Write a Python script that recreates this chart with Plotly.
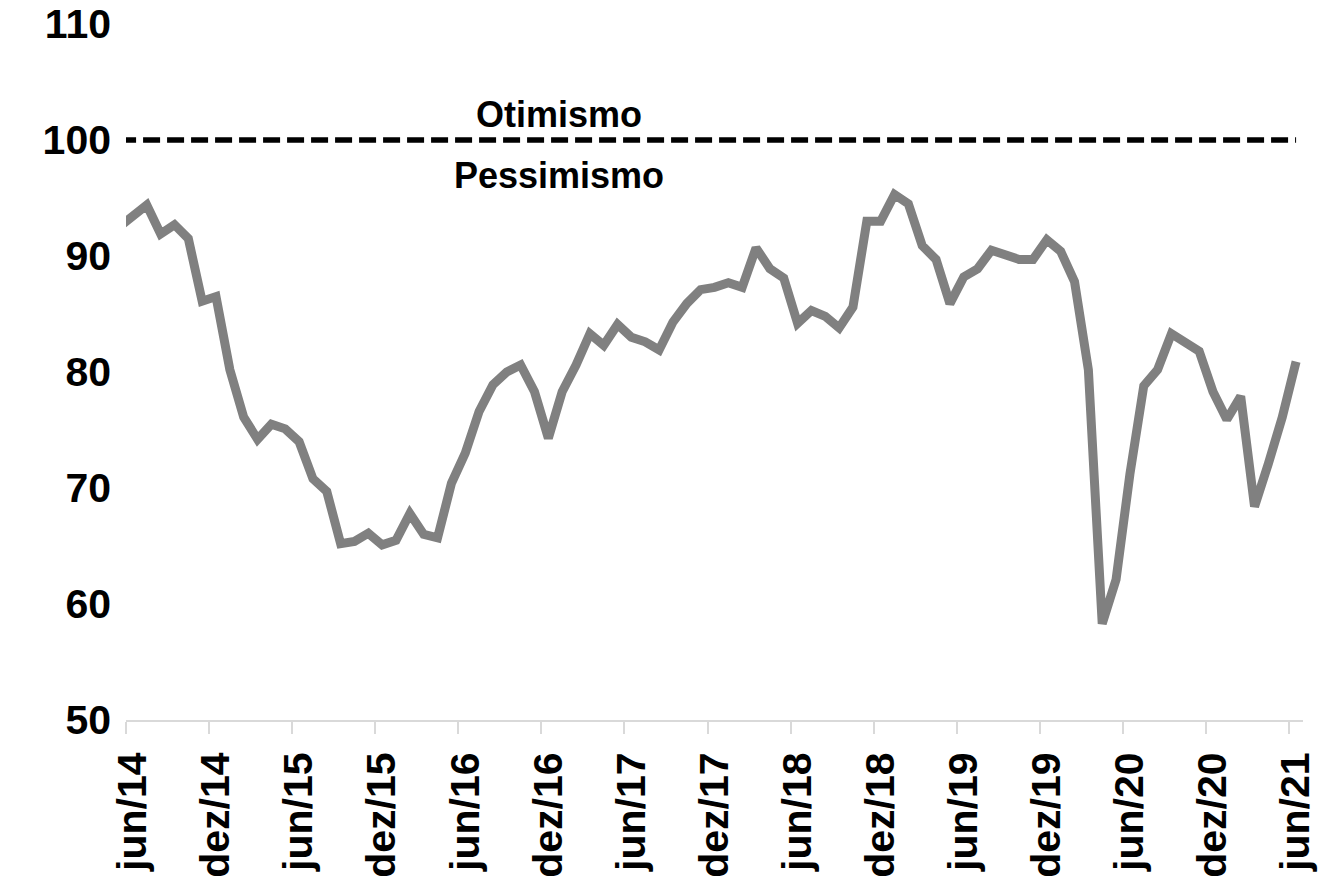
import plotly.graph_objects as go

# meses (mai/14 fica fora da área visível, só dá o começo da linha)
meses = ["mai/14",
         "jun/14", "jul/14", "ago/14", "set/14", "out/14", "nov/14", "dez/14",
         "jan/15", "fev/15", "mar/15", "abr/15", "mai/15", "jun/15", "jul/15", "ago/15", "set/15", "out/15", "nov/15", "dez/15",
         "jan/16", "fev/16", "mar/16", "abr/16", "mai/16", "jun/16", "jul/16", "ago/16", "set/16", "out/16", "nov/16", "dez/16",
         "jan/17", "fev/17", "mar/17", "abr/17", "mai/17", "jun/17", "jul/17", "ago/17", "set/17", "out/17", "nov/17", "dez/17",
         "jan/18", "fev/18", "mar/18", "abr/18", "mai/18", "jun/18", "jul/18", "ago/18", "set/18", "out/18", "nov/18", "dez/18",
         "jan/19", "fev/19", "mar/19", "abr/19", "mai/19", "jun/19", "jul/19", "ago/19", "set/19", "out/19", "nov/19", "dez/19",
         "jan/20", "fev/20", "mar/20", "abr/20", "mai/20", "jun/20", "jul/20", "ago/20", "set/20", "out/20", "nov/20", "dez/20",
         "jan/21", "fev/21", "mar/21", "abr/21", "mai/21", "jun/21"]

indice = [92.5,
          93.4, 94.4, 91.9, 92.7, 91.5, 86.1, 86.5,
          80.2, 76.1, 74.2, 75.5, 75.1, 74.0, 70.8, 69.7, 65.2, 65.4, 66.1, 65.1,
          65.5, 67.8, 66.0, 65.7, 70.4, 73.0, 76.6, 78.9, 80.0, 80.6, 78.3, 74.3,
          78.3, 80.6, 83.3, 82.3, 84.1, 83.0, 82.6, 81.9, 84.3, 85.9, 87.1, 87.3,
          87.7, 87.3, 90.7, 88.9, 88.1, 84.2, 85.3, 84.8, 83.8, 85.6, 93.0, 93.0,
          95.3, 94.5, 90.9, 89.7, 85.9, 88.2, 88.9, 90.5, 90.0, 89.7, 89.7, 91.4,
          90.4, 87.8, 80.2, 58.3, 62.1, 71.2, 78.8, 80.2, 83.3, 82.5, 81.8, 78.3,
          75.9, 77.9, 68.4, 72.1, 76.1, 80.9]

neutro = 100  # linha que separa otimismo de pessimismo

y_ticks = [50, 60, 70, 80, 90, 100, 110]

fonte = dict(family="Liberation Sans, Arial", size=41, color="black", weight="bold")
fonte_txt = dict(family="Liberation Sans, Arial", size=36, color="black", weight="bold")

x = list(range(len(meses)))

# rotulos de 6 em 6 meses a partir de jun/14, tick na borda esquerda da categoria
rot_idx = [i for i in x[1:] if (i - 1) % 6 == 0]
rot_txt = [meses[i] for i in rot_idx]
tick_bordas = [i - 0.5 for i in rot_idx]

fig = go.Figure()
fig.add_trace(go.Scatter(x=x, y=[neutro] * len(x), mode="lines",
                         line=dict(color="black", width=5.5, dash="17px,7px"),
                         hoverinfo="skip", showlegend=False))
fig.add_trace(go.Scatter(x=x, y=indice, mode="lines",
                         line=dict(color="#808080", width=9),
                         showlegend=False))

fig.add_annotation(x=0.368, xref="paper", y=neutro, yref="y", yshift=26,
                   text="Otimismo", showarrow=False, font=fonte_txt)
fig.add_annotation(x=0.368, xref="paper", y=neutro, yref="y", yshift=-35,
                   text="Pessimismo", showarrow=False, font=fonte_txt)

fig.update_xaxes(range=[0.5, len(meses) - 0.5], tickmode="array",
                 tickvals=rot_idx, ticktext=rot_txt, tickangle=-90,
                 ticks="outside", ticklen=12, tickcolor="rgba(0,0,0,0)",
                 ticklabelstandoff=2, automargin=False, ticklabeloverflow="allow",
                 minor=dict(tickmode="array", tickvals=tick_bordas, ticks="outside",
                            ticklen=12, tickwidth=2, tickcolor="#d9d9d9", showgrid=False),
                 showline=True, linecolor="#d9d9d9", linewidth=2,
                 showgrid=False, zeroline=False, tickfont=fonte)
fig.update_yaxes(range=[50, 110], tickmode="array", tickvals=y_ticks,
                 showline=False, showgrid=False, zeroline=False, automargin=False,
                 ticklabeloverflow="allow",
                 ticks="", ticklabelstandoff=14, tickfont=fonte)

# a pagina tem 8px de margem no body, por isso o tamanho menor
fig.update_layout(width=1329, height=869,
                  margin=dict(l=118, r=34, t=16, b=157),
                  plot_bgcolor="white", paper_bgcolor="white")

fig.write_html("out.html")
